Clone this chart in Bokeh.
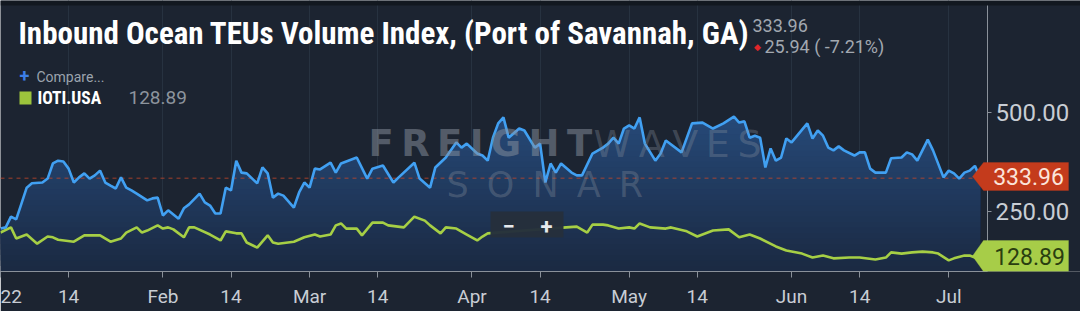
import numpy as np
import pandas as pd
from bokeh.plotting import figure
from bokeh.models import (Range1d, FixedTicker, NumeralTickFormatter, CustomJSTickFormatter,
                          Label, BoxAnnotation, PolyAnnotation, LinearAxis)
from bokeh.embed import file_html
from bokeh.resources import INLINE

# ---------------- data ----------------
title_text = "Inbound Ocean TEUs Volume Index, (Port of Savannah, GA)"
main_last = "333.96"
main_change = "25.94 ( -7.21%)"
compare_label = "Compare..."
compare_name = "IOTI.USA"
compare_last = "128.89"

x_tick_dates = ["2022-01-01", "2022-01-14", "2022-02-01", "2022-02-14", "2022-03-01",
                "2022-03-14", "2022-04-01", "2022-04-14", "2022-05-01", "2022-05-14",
                "2022-06-01", "2022-06-14", "2022-07-01"]
x_tick_labels = ["22", "14", "Feb", "14", "Mar", "14", "Apr", "14", "May", "14",
                 "Jun", "14", "Jul"]
y_ticks = [250, 500]

# days after 2022-01-01
blue_day = [0, 1, 2, 3, 4, 5, 6, 8, 9, 10,
            11, 12, 13, 14, 15, 16, 17, 18, 19, 20,
            21, 22, 23, 24, 25, 26, 28, 29, 30, 31,
            32, 34, 35, 36, 38, 39, 40, 41, 42, 43,
            44, 45, 46, 47, 49, 50, 51, 52, 53, 54,
            56, 57, 58, 59, 60, 61, 63, 64, 65, 68,
            70, 71, 73, 75, 76, 79, 80, 82, 83, 85,
            87, 88, 89, 91, 92, 93, 94, 95, 96, 97,
            99, 100, 102, 103, 104, 105, 106, 107, 109, 110,
            111, 113, 115, 116, 117, 118, 119, 120, 121, 122,
            123, 125, 126, 127, 130, 132, 134, 136, 138, 140,
            141, 142, 143, 144, 145, 146, 147, 148, 149, 150,
            151, 154, 155, 156, 157, 158, 159, 160, 161, 163,
            164, 165, 166, 167, 169, 170, 172, 173, 174, 175,
            177, 178, 180, 181, 182, 183, 184, 185, 186, 187]
blue_val = [207, 210, 237, 230, 270, 310, 321, 323, 333, 371,
            378, 376, 358, 323, 336, 346, 333, 341, 353, 323,
            315, 308, 336, 310, 303, 295, 278, 283, 285, 240,
            253, 232, 258, 268, 295, 273, 265, 245, 245, 310,
            303, 378, 348, 346, 321, 361, 346, 285, 295, 290,
            260, 298, 323, 310, 358, 356, 373, 348, 371, 386,
            333, 358, 366, 323, 336, 373, 333, 310, 361, 386,
            424, 411, 421, 396, 391, 378, 436, 472, 487, 436,
            459, 454, 411, 421, 323, 371, 348, 371, 348, 341,
            341, 396, 411, 421, 436, 421, 459, 467, 459, 487,
            421, 378, 396, 429, 399, 472, 474, 459, 472, 489,
            474, 477, 436, 441, 436, 361, 409, 378, 386, 434,
            424, 472, 434, 454, 441, 411, 404, 414, 404, 391,
            399, 399, 358, 348, 348, 384, 386, 399, 394, 378,
            431, 404, 336, 353, 346, 333, 348, 353, 365, 333.96]

green_day = [0, 2, 3, 5, 7, 9, 10, 11, 14, 16,
             19, 21, 23, 24, 26, 27, 28, 30, 31, 32,
             33, 35, 36, 37, 40, 42, 43, 45, 46, 47,
             49, 51, 52, 53, 56, 58, 60, 61, 63, 64,
             65, 66, 68, 69, 71, 73, 74, 77, 79, 81,
             82, 84, 85, 87, 89, 91, 92, 93, 108, 110,
             112, 113, 115, 116, 118, 120, 121, 122, 124, 127,
             128, 131, 133, 135, 136, 139, 141, 143, 145, 148,
             150, 153, 155, 157, 159, 162, 164, 167, 169, 170,
             172, 174, 176, 178, 179, 181, 182, 184, 185, 187]
green_val = [197, 210, 182, 192, 169, 187, 185, 179, 174, 190,
             190, 174, 182, 197, 210, 197, 202, 215, 207, 210,
             205, 185, 210, 210, 192, 177, 200, 195, 195, 172,
             159, 190, 172, 169, 174, 185, 192, 187, 192, 215,
             220, 207, 207, 190, 222, 222, 215, 210, 237, 227,
             215, 195, 210, 207, 192, 177, 187, 195, 210, 212,
             197, 217, 217, 215, 207, 210, 207, 220, 210, 207,
             210, 200, 187, 197, 202, 205, 185, 192, 182, 162,
             152, 144, 134, 139, 132, 134, 134, 129, 134, 147,
             144, 147, 149, 147, 144, 127, 132, 139, 139, 128.89]

# ---------------- styling ----------------
W, H = 1080, 311
BG = "#1c2431"
BLUE = "#41a0f2"
GREEN = "#a6cf45"
AXIS_TXT = "#c8cdd4"
AXIS_LINE = "#8a919a"
COND = "'Roboto Condensed', 'Liberation Sans Narrow', 'DejaVu Sans Condensed', Roboto, sans-serif"

t0 = pd.Timestamp("2022-01-01")
blue_x = t0 + pd.to_timedelta(blue_day, unit="D")
green_x = t0 + pd.to_timedelta(green_day, unit="D")
x_start = t0
axis_at = t0 + pd.Timedelta(days=188.4)        # where the value axis sits
x_end = t0 + pd.Timedelta(days=188.4 * W / 987)  # frame spans the whole canvas width

p = figure(width=W, height=H, x_axis_type="datetime",
           x_range=Range1d(x_start, x_end), y_range=Range1d(98.9, 781.5),
           output_backend="svg", toolbar_location=None,
           min_border_left=0, min_border_right=0, min_border_top=0, min_border_bottom=40,
           background_fill_color=BG, border_fill_color=BG, outline_line_color=None)
p.yaxis.visible = False

# gradient area under the main series
blue_arr = np.array(blue_val, dtype=float)
c_bot = np.array([0x1b, 0x2a, 0x43])
c_top = np.array([0x27, 0x4b, 0x7b])
levels = np.linspace(98.9, 500, 30)
for i, lo in enumerate(levels):
    t = i / (len(levels) - 1)
    c = (c_bot + (c_top - c_bot) * t).astype(int)
    col = "#%02x%02x%02x" % tuple(c)
    p.varea(x=blue_x, y1=np.minimum(blue_arr, lo), y2=blue_arr, fill_color=col, fill_alpha=1.0)

# dashed last-value reference line
p.line([x_start, axis_at], [float(main_last)] * 2, line_color="#c4472b",
       line_dash="4 4", line_width=1, line_alpha=0.8)

p.line(green_x, green_val, line_color=GREEN, line_width=2.6)
p.line(blue_x, blue_val, line_color=BLUE, line_width=2.6)

# x axis
tick_ms = [int(pd.Timestamp(d).value // 10**6) for d in x_tick_dates]
xa = p.xaxis[0]
xa.ticker = FixedTicker(ticks=tick_ms)
xa.formatter = CustomJSTickFormatter(args=dict(tk=tick_ms, lb=x_tick_labels), code="""
    for (let i = 0; i < tk.length; i++) { if (Math.abs(tk[i] - tick) < 1000) return lb[i]; }
    return "";
""")
xa.bounds = (x_start, axis_at)
xa.axis_line_color = AXIS_LINE
xa.major_tick_line_color = AXIS_LINE
xa.major_tick_out = 6
xa.major_tick_in = 0
xa.minor_tick_line_color = None
xa.major_label_standoff = 7
xa.major_label_text_font = "Roboto"
xa.major_label_text_font_size = "19px"
xa.major_label_text_color = AXIS_TXT

# value axis, pinned at the end of the time range
ya = LinearAxis(ticker=FixedTicker(ticks=y_ticks), formatter=NumeralTickFormatter(format="0.00"),
                fixed_location=axis_at.value / 1e6)
ya.axis_line_color = AXIS_LINE
ya.major_tick_line_color = AXIS_LINE
ya.major_tick_out = 4
ya.major_tick_in = 0
ya.minor_tick_line_color = None
ya.major_label_standoff = 4
ya.major_label_text_font = "Roboto"
ya.major_label_text_font_size = "24px"
ya.major_label_text_color = AXIS_TXT
p.add_layout(ya, "right")

p.xgrid.grid_line_color = "#273240"
p.ygrid.grid_line_color = None


def lab(text, x, y, size, color, bold=False, font="Roboto", align="left", alpha=1.0):
    # canvas units: y measured from the top of the canvas
    return Label(x=x, y=y, x_units="canvas", y_units="canvas", text=text,
                 text_font=font, text_font_size=f"{size}px", text_color=color,
                 text_font_style="bold" if bold else "normal", text_align=align,
                 text_baseline="middle", text_alpha=alpha)


def box(l, r, t, b, color, alpha=1.0):
    return BoxAnnotation(left=l, right=r, top=t, bottom=b, left_units="canvas",
                         right_units="canvas", top_units="canvas", bottom_units="canvas",
                         fill_color=color, fill_alpha=alpha, line_color=None)


# watermark
p.add_layout(lab("F\u2009R\u2009E\u2009I\u2009G\u2009H\u2009T", 368, 143, 37, "#8a939f",
                 bold=True, font="DejaVu Sans", alpha=0.5))
p.add_layout(lab("W\u2009A\u2009V\u2009E\u2009S", 593, 143, 38, "#8a939f",
                 font="DejaVu Sans", alpha=0.32))
p.add_layout(lab("S \u2009O \u2009N \u2009A \u2009R", 446, 184, 35, "#8a939f",
                 font="DejaVu Sans", alpha=0.32))

# top strip
p.add_layout(box(0, W, 0, 5, "#121820"))

# title and header values
p.add_layout(lab(title_text, 18, 33, 31, "#ffffff", bold=True, font=COND))
p.add_layout(lab(main_last, 752, 25, 18, "#a2a8b0"))
p.add_layout(lab("\u25c6", 753, 46, 9, "#e0262a"))
p.add_layout(lab(main_change, 764, 46, 18, "#a2a8b0"))

# legend block
p.add_layout(lab("+", 19, 75, 18, "#3d7fe6", bold=True))
p.add_layout(lab(compare_label, 36, 76, 14, "#9ba3ad"))
p.add_layout(box(19, 31, 91, 104, "#9cc43c"))
p.add_layout(lab(compare_name, 37, 97, 17.5, "#ffffff", bold=True, font=COND))
p.add_layout(lab(compare_last, 128, 97, 19, "#8d949d"))

# zoom control
p.add_layout(box(490, 563, 211, 237, "#252f3c", 0.97))
p.add_layout(lab("\u2212", 508, 225, 22, "#e6e9ed", bold=True, align="center"))
p.add_layout(lab("+", 546, 225, 22, "#e6e9ed", bold=True, align="center"))


# price tags
def tag(ytop, ybot, tipx, color):
    ym = (ytop + ybot) / 2
    xs = [tipx, tipx + 11, 1068, 1068, tipx + 11]
    ys = [ym, ytop, ytop, ybot, ybot]
    return PolyAnnotation(xs=xs, ys=ys, xs_units="canvas", ys_units="canvas",
                          fill_color=color, fill_alpha=1.0, line_color=color)


p.add_layout(tag(162, 190, 972, "#c43b1c"))
p.add_layout(lab(main_last, 1028, 176, 23, "#fbe4da", align="center"))
p.add_layout(tag(240, 271, 972, "#a7cd48"))
p.add_layout(lab(compare_last, 1029, 256, 23, "#2a3e10", align="center"))

open("out.html", "w").write(file_html(p, INLINE))
